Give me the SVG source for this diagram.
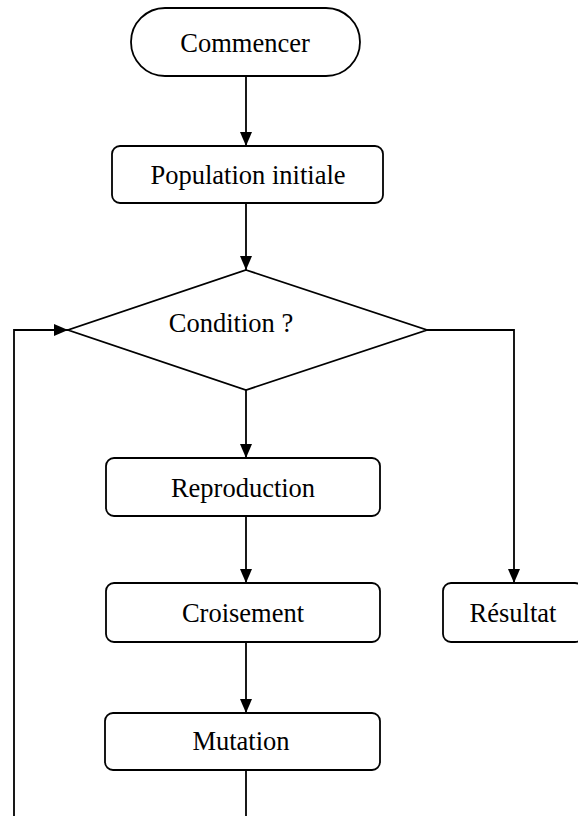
<svg xmlns="http://www.w3.org/2000/svg" width="578" height="816" viewBox="0 0 578 816">
<style>
.n{fill:#fff;stroke:#000;stroke-width:1.8}
.t{font-family:"Liberation Serif","Times New Roman",serif;font-size:26.5px;fill:#000;text-anchor:middle}
.c{fill:none;stroke:#000;stroke-width:1.8}
</style>
<defs>
<marker id="b" viewBox="0 0 14 12" refX="14" refY="6" markerWidth="14" markerHeight="12" markerUnits="userSpaceOnUse" orient="auto">
<path d="M0,0 L14,6 L0,12 z" fill="#000"/>
</marker>
</defs>
<rect width="578" height="816" fill="#fff"/>
<g id="connectors">
<line class="c" x1="246" y1="76" x2="246" y2="146" marker-end="url(#b)"/>
<line class="c" x1="246" y1="203" x2="246" y2="270" marker-end="url(#b)"/>
<line class="c" x1="246" y1="390" x2="246" y2="458" marker-end="url(#b)"/>
<line class="c" x1="246" y1="516" x2="246" y2="583" marker-end="url(#b)"/>
<line class="c" x1="246" y1="642" x2="246" y2="713" marker-end="url(#b)"/>
<line class="c" x1="246" y1="770" x2="246" y2="816"/>
<polyline class="c" points="427,330 514,330 514,583" marker-end="url(#b)"/>
<polyline class="c" points="14,816 14,330 68,330" marker-end="url(#b)"/>
</g>
<g id="start">
<rect class="n" x="131" y="8" width="229" height="68" rx="34" ry="34"/>
<text class="t" x="245" y="52">Commencer</text>
</g>
<g id="population">
<rect class="n" x="112" y="146" width="271" height="57" rx="8"/>
<text class="t" x="248" y="184">Population initiale</text>
</g>
<g id="condition">
<polygon class="n" points="246,270 427,330 246,390 68,330"/>
<text class="t" x="231" y="332">Condition ?</text>
</g>
<g id="reproduction">
<rect class="n" x="106" y="458" width="274" height="58" rx="8"/>
<text class="t" x="243" y="497">Reproduction</text>
</g>
<g id="croisement">
<rect class="n" x="106" y="583" width="274" height="59" rx="8"/>
<text class="t" x="243" y="622">Croisement</text>
</g>
<g id="mutation">
<rect class="n" x="105" y="713" width="275" height="57" rx="8"/>
<text class="t" x="241" y="750">Mutation</text>
</g>
<g id="resultat">
<rect class="n" x="443" y="583" width="140" height="59" rx="8"/>
<text class="t" x="513" y="622">Résultat</text>
</g>
</svg>
